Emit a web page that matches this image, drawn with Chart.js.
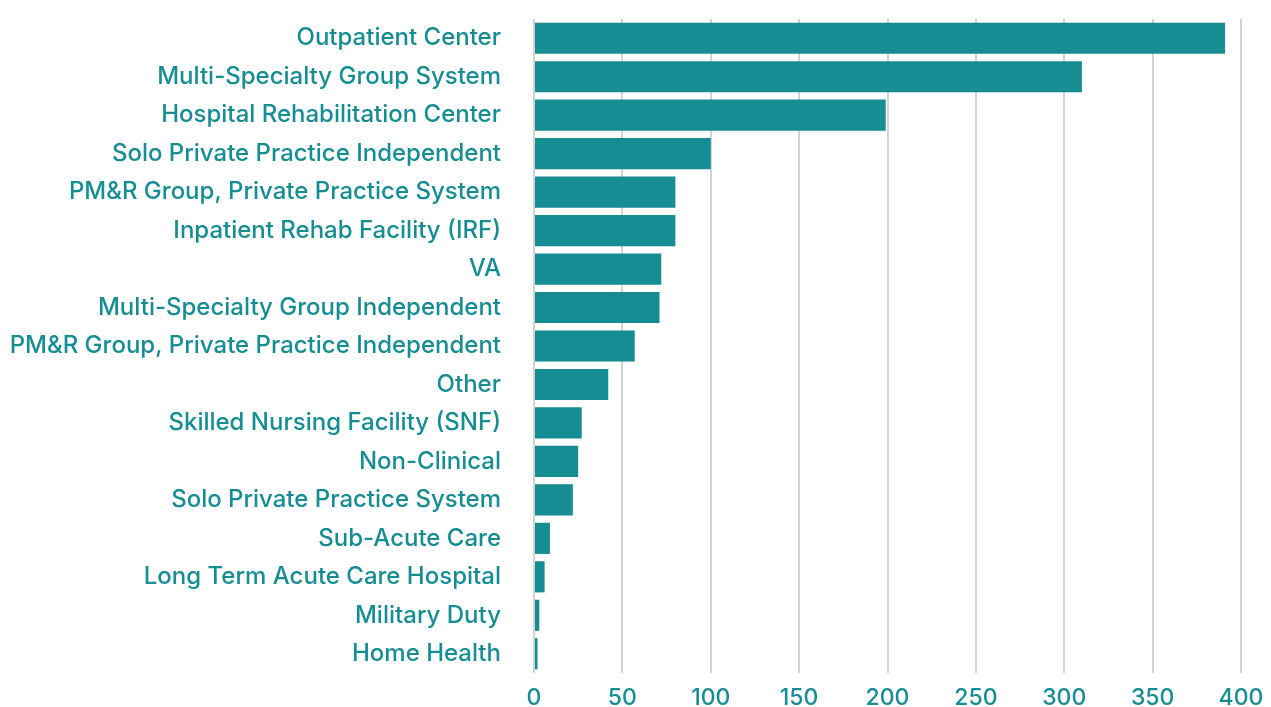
<!DOCTYPE html>
<html lang="en">
<head>
  <meta charset="UTF-8" />
  <title>Practice settings</title>
  <script src="https://cdn.jsdelivr.net/npm/chart.js"></script>
  <style>
    html, body {
      margin: 0;
      padding: 0;
      background: #ffffff;
    }
    #wrap {
      width: 1271px;
      height: 707px;
    }
  </style>
</head>
<body>
  <div id="wrap"><canvas id="chart"></canvas></div>

  <script>
    // data
    const categories = [
      "Outpatient Center",
      "Multi-Specialty Group System",
      "Hospital Rehabilitation Center",
      "Solo Private Practice Independent",
      "PM&R Group, Private Practice System",
      "Inpatient Rehab Facility (IRF)",
      "VA",
      "Multi-Specialty Group Independent",
      "PM&R Group, Private Practice Independent",
      "Other",
      "Skilled Nursing Facility (SNF)",
      "Non-Clinical",
      "Solo Private Practice System",
      "Sub-Acute Care",
      "Long Term Acute Care Hospital",
      "Military Duty",
      "Home Health"
    ];
    const counts = [391, 310, 199, 100, 80, 80, 72, 71, 57, 42, 27, 25, 22, 9, 6, 3, 2];
    const xTicks = [0, 50, 100, 150, 200, 250, 300, 350, 400];

    const teal = "#168d93";
    const fontFamily = "Inter, 'Open Sans', sans-serif";

    new Chart(document.getElementById("chart"), {
      type: "bar",
      data: {
        labels: categories,
        datasets: [{
          data: counts,
          backgroundColor: teal,
          borderWidth: 0,
          barPercentage: 0.81,
          categoryPercentage: 1
        }]
      },
      options: {
        indexAxis: "y",
        responsive: true,
        maintainAspectRatio: false,
        animation: false,
        layout: { padding: { top: 19, right: 30, bottom: 0, left: 0 } },
        plugins: {
          legend: { display: false },
          tooltip: { enabled: false }
        },
        scales: {
          x: {
            min: 0,
            max: 400,
            afterBuildTicks: s => { s.ticks = xTicks.map(v => ({ value: v })); },
            grid: { color: "#d3d3d3", lineWidth: 2, drawTicks: false },
            border: { display: false },
            ticks: {
              color: teal,
              padding: 11,
              font: { family: fontFamily, size: 23, weight: "500" }
            },
            afterFit: s => { s.height = 34; s.paddingLeft = 0; s.paddingRight = 0; }
          },
          y: {
            grid: { display: false, drawTicks: false },
            border: { display: false },
            ticks: {
              color: teal,
              padding: 33,
              autoSkip: false,
              font: { family: fontFamily, size: 24, weight: "500" }
            },
            afterFit: s => { s.width = 534; s.paddingTop = 0; s.paddingBottom = 0; }
          }
        }
      }
    });
  </script>
</body>
</html>
